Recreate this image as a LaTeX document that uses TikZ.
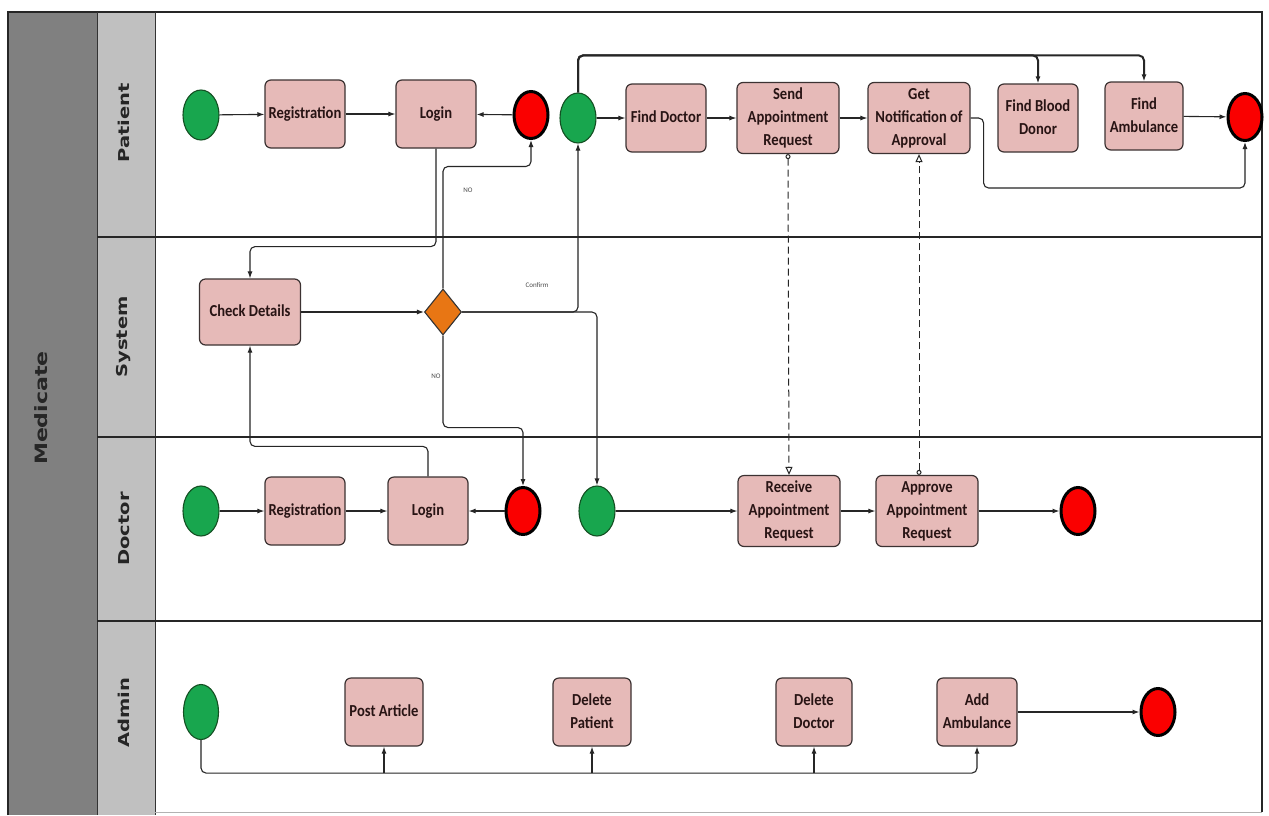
\documentclass[tikz,border=0pt]{standalone}
\usepackage{fontspec}
\setmainfont{Carlito}
\newfontfamily\lanefont{DejaVu Sans}
\usetikzlibrary{arrows.meta,shapes.geometric,calc}
\definecolor{boxfill}{RGB}{230,186,184}
\definecolor{boxline}{RGB}{60,50,50}
\definecolor{textc}{RGB}{40,20,20}
\definecolor{gstart}{RGB}{24,166,78}
\definecolor{gline}{RGB}{20,80,35}
\definecolor{rend}{RGB}{250,0,0}
\definecolor{orangeg}{RGB}{232,118,20}
\definecolor{darkband}{RGB}{128,128,128}
\definecolor{lightband}{RGB}{192,192,192}
\newcommand\tx[1]{\scalebox{1}[1.15]{\begin{tabular}{@{}c@{}}#1\end{tabular}}}
\newcommand\lanetx[1]{\scalebox{1.3}[1]{#1}}
\begin{document}
\begin{tikzpicture}[x=1pt,y=-1pt,
  task/.style={draw=boxline, line width=1.2pt, fill=boxfill, rounded corners=6pt,
    minimum width=80pt, minimum height=68pt, inner sep=1pt, align=center,
    font=\bfseries\fontsize{14.6}{20}\selectfont, text=textc},
  widetask/.style={task, minimum width=102pt},
  startn/.style={ellipse, draw=gline, line width=1.1pt, fill=gstart,
    minimum width=36pt, minimum height=50pt, inner sep=0pt},
  endn/.style={ellipse, draw=black, line width=3pt, fill=rend,
    minimum width=34pt, minimum height=47pt, inner sep=0pt},
  gate/.style={diamond, draw=black!80, line width=1.1pt, fill=orangeg,
    minimum width=37pt, minimum height=46pt, inner sep=0pt},
  flow/.style={draw=black!85, line width=1.1pt, -{Latex[length=7pt,width=5pt]}, rounded corners=5pt},
  thickflow/.style={flow, line width=2pt},
  msg/.style={draw=black!85, line width=1pt, dash pattern=on 7pt off 4pt,
    {Circle[open,length=5pt,width=5pt]}-{Triangle[open,length=8pt,width=7pt]}},
  lbl/.style={font=\fontsize{7}{8}\selectfont, text=black!70, inner sep=1pt},
  lane/.style={font=\lanefont\bfseries\fontsize{15}{15}\selectfont, text=black!85, rotate=90},
]
\useasboundingbox (0,0) rectangle (1269,815);
\fill[white] (0,0) rectangle (1269,815);
% bands and frame
\fill[darkband] (8,12) rectangle (97,815);
\fill[lightband] (97,12) rectangle (155,815);
\draw[line width=1.6pt, black!85] (8,815) -- (8,12) -- (1262,12) -- (1262,812);
\draw[line width=1pt, black!80] (97,12) -- (97,815);
\draw[line width=1pt, black!80] (155,12) -- (155,815);
\draw[line width=0.6pt, black!30] (155,812) -- (1262,812);
\foreach \yy in {237,437,621} \draw[line width=1.8pt, black!85] (97,\yy) -- (1262,\yy);
% lane labels
\node[lane, font=\lanefont\bfseries\fontsize{17}{17}\selectfont] (lmed) at (41,408) {\lanetx{Medicate}};
\node[lane] (lpat) at (124,123) {\lanetx{Patient}};
\node[lane] (lsys) at (124,337) {\lanetx{System}};
\node[lane] (ldoc) at (124,529) {\lanetx{Doctor}};
\node[lane] (ladm) at (124,713) {\lanetx{Admin}};

% Patient lane
\node[startn] (ps1) at (201,115) {};
\node[task] (preg) at (305,114) {\tx{Registration}};
\node[task] (plog) at (436,114) {\tx{Login}};
\node[endn] (pe1) at (531,115) {};
\node[startn] (ps2) at (578,118) {};
\node[task] (pfd) at (666,118) {\tx{Find Doctor}};
\node[widetask] (psend) at (788,118) {\tx{Send\\Appointment\\Request}};
\node[widetask] (pgn) at (919,118) {\tx{Get\\Notification of\\Approval}};
\node[task] (pbd) at (1038,118) {\tx{Find Blood\\Donor}};
\node[task, minimum width=78pt] (pamb) at (1144,116) {\tx{Find\\Ambulance}};
\node[endn] (pe2) at (1245,117) {};

% System lane
\node[task, minimum width=101pt, minimum height=66pt] (chk) at (250,312) {\tx{Check Details}};
\node[gate] (dia) at (443,312) {};

% Doctor lane
\node[startn] (ds1) at (201,511) {};
\node[task] (dreg) at (305,511) {\tx{Registration}};
\node[task] (dlog) at (428,511) {\tx{Login}};
\node[endn] (de1) at (523,511) {};
\node[startn] (ds2) at (597,511) {};
\node[widetask] (drecv) at (789,511) {\tx{Receive\\Appointment\\Request}};
\node[widetask] (dappr) at (927,511) {\tx{Approve\\Appointment\\Request}};
\node[endn] (de2) at (1078,511) {};

% Admin lane
\node[startn, minimum width=35pt, minimum height=55pt] (as) at (201,712) {};
\node[task, minimum width=78pt] (apost) at (384,712) {\tx{Post Article}};
\node[task, minimum width=78pt] (adp) at (592,712) {\tx{Delete\\Patient}};
\node[task, minimum width=76pt] (add) at (814,712) {\tx{Delete\\Doctor}};
\node[task] (aamb) at (977,712) {\tx{Add\\Ambulance}};
\node[endn] (ae) at (1158,712) {};

% labels
\node[lbl] (no1) at (468,190) {NO};
\node[lbl] (conf) at (537,285) {Confirm};
\node[lbl] (no2) at (436,376) {NO};

% Patient flows
\draw[flow] (ps1) -- (preg);
\draw[flow] (preg) -- (plog);
\draw[flow] (pe1) -- (plog);
\draw[flow] (ps2) -- (pfd);
\draw[flow] (pfd) -- (psend);
\draw[flow] (psend) -- (pgn);
\draw[flow] (pamb) -- (pe2);
\draw[thickflow] (ps2.north) -- ++(0,-37) -| (pbd.north);
\draw[thickflow] (ps2.north) -- ++(0,-37) -| (pamb.north);
\draw[flow] (pgn.east) -- ++(13,0) -- ++(0,70) -| (pe2.south);

% System flows
\draw[flow] (plog.south) -- ++(0,98) -| (chk.north);
\draw[flow] (chk) -- (dia);
\draw[flow] (dia.north) -- ++(0,-122) -| (pe1.south);
\draw[flow] (dia.east) -| (ps2.south);
\draw[flow] (dia.east) -| (ds2.north);
\draw[flow] (dia.south) -- ++(0,92) -| (de1.north);
\draw[flow] (dlog.north) -- ++(0,-30) -| (chk.south);

% Doctor flows
\draw[flow] (ds1) -- (dreg);
\draw[flow] (dreg) -- (dlog);
\draw[flow] (de1) -- (dlog);
\draw[flow] (ds2) -- (drecv);
\draw[flow] (drecv) -- (dappr);
\draw[flow] (dappr) -- (de2);

% message flows
\draw[msg] (psend.south) -- (drecv.north);
\draw[msg] (pgn.south |- dappr.north) -- (pgn.south);

% Admin flows
\draw[flow] (as.south) -- ++(0,33) coordinate (abus) -| (aamb.south);
\draw[flow] (apost.south |- abus) -- (apost.south);
\draw[flow] (adp.south |- abus) -- (adp.south);
\draw[flow] (add.south |- abus) -- (add.south);
\draw[flow] (aamb) -- (ae);
\end{tikzpicture}
\end{document}
